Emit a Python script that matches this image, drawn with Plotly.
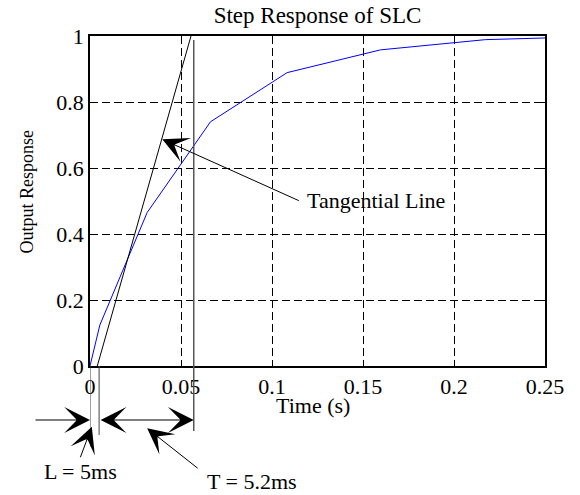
import plotly.graph_objects as go

# Step response samples of the SLC (time in seconds)
time_s = [0, 0.0054, 0.0314, 0.0662, 0.1083, 0.1596, 0.2173, 0.25]
response = [0, 0.124, 0.465, 0.740, 0.889, 0.958, 0.989, 0.994]

# Tangent drawn at the inflection point
tangent_t = [0.004, 0.0555]
tangent_y = [0, 1]

# Delay time L and time constant T (seconds on the axis)
L_delay = 0.005
T_const = 0.052

x_ticks = [0, 0.05, 0.1, 0.15, 0.2, 0.25]
y_ticks = [0, 0.2, 0.4, 0.6, 0.8, 1]

SERIF = "Liberation Serif, Times New Roman, serif"

fig = go.Figure()
fig.add_trace(go.Scatter(x=time_s, y=response, mode="lines",
                         line=dict(color="#0000ff", width=1), showlegend=False))
fig.add_trace(go.Scatter(x=tangent_t, y=tangent_y, mode="lines",
                         line=dict(color="black", width=1), showlegend=False))

# Vertical marker lines for 0, L and L+T, extended below the axis
fig.add_shape(type="line", xref="x", yref="paper", x0=0, x1=0, y0=0, y1=-0.245,
              line=dict(color="#444", width=1))
fig.add_shape(type="line", xref="x", yref="paper", x0=L_delay, x1=L_delay, y0=0, y1=-0.209,
              line=dict(color="#444", width=1))
fig.add_shape(type="line", xref="x", yref="paper", x0=L_delay + T_const, x1=L_delay + T_const,
              y0=0.988, y1=-0.197, line=dict(color="#555", width=1.5))

arrow = dict(showarrow=True, arrowhead=3, arrowsize=4.3, arrowwidth=1,
             arrowcolor="black", text="", standoff=0)


def text_label(x, y, text, angle=0, size=22):
    fig.add_annotation(x=x, y=y, xref="paper", yref="paper", showarrow=False,
                       xanchor="center", yanchor="middle", textangle=angle,
                       text=text, font=dict(family=SERIF, size=size, color="black"))


# Pointer to the tangent line
fig.add_annotation(x=0.0397, y=0.687, xref="x", yref="y", ax=138, ay=62, **arrow)
text_label((376 - 90) / 455, (366 - 200) / 330, "Tangential Line")

# L interval: arrow from the left onto x = 0
fig.add_annotation(x=0, y=-0.1636, xref="x", yref="paper", ax=-56, ay=0, **arrow)
# T interval: double-headed arrow between L and L+T
fig.add_annotation(x=L_delay + T_const, y=-0.1636, xref="x", yref="paper",
                   axref="x", ax=L_delay, ay=0, arrowside="end+start",
                   startarrowhead=3, startarrowsize=4.3, **arrow)

# Label pointers
fig.add_annotation(x=0.001, y=-0.184, xref="x", yref="paper", ax=-12, ay=32, **arrow)
fig.add_annotation(x=0.0314, y=-0.189, xref="x", yref="paper", ax=52, ay=41, **arrow)

text_label((80 - 90) / 455, (366 - 471) / 330, "L = 5ms")
text_label((252 - 90) / 455, (366 - 481) / 330, "T = 5.2ms")

# Axis titles
text_label((313 - 90) / 455, (366 - 405) / 330, "Time (s)")
text_label((26 - 90) / 455, (366 - 191.5) / 330, "Output Response", angle=-90, size=18)

axis_common = dict(showline=True, linecolor="black", linewidth=1.5, mirror="ticks",
                   ticks="inside", ticklen=5, tickcolor="black",
                   showgrid=True, gridcolor="black", gridwidth=1, griddash="8px,4px",
                   zeroline=False, tickfont=dict(family=SERIF, size=22, color="black"))

fig.update_xaxes(range=[0, 0.25], tickvals=x_ticks,
                 ticktext=[f"{v:g}" for v in x_ticks], **axis_common)
fig.update_yaxes(range=[0, 1], tickvals=y_ticks,
                 ticktext=[f"{v:g}" for v in y_ticks], **axis_common)

fig.update_layout(
    width=580, height=495,
    margin=dict(l=90, r=35, t=36, b=129),
    paper_bgcolor="white", plot_bgcolor="white",
    title=dict(text="Step Response of SLC", x=0.5, xref="paper", xanchor="center",
               y=1 - 15 / 495, yref="container", yanchor="middle",
               font=dict(family=SERIF, size=23, color="black")),
)

fig.write_html("out.html")
